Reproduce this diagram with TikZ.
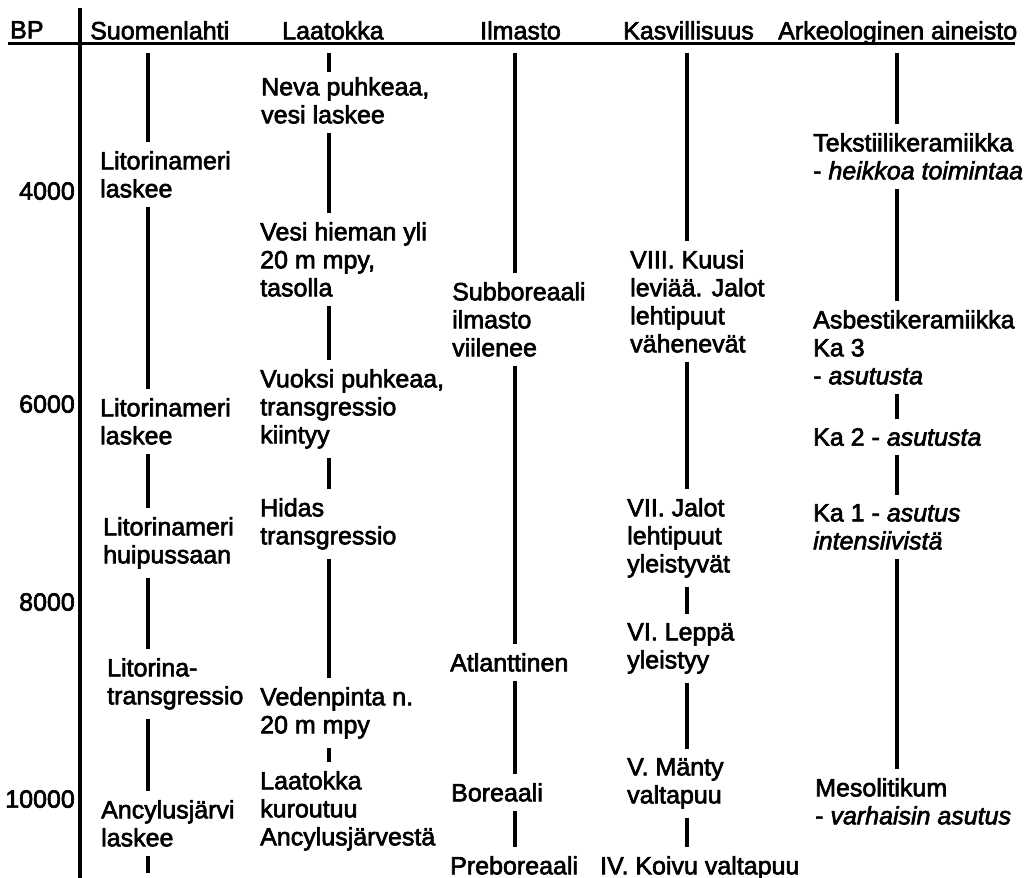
\documentclass[tikz,border=0pt]{standalone}
\usepackage{fontspec}
\setmainfont{Liberation Sans}[UprightFeatures={FakeBold=2.5}, ItalicFeatures={FakeBold=2.5}]
\tikzset{
    txt/.style={anchor=north west, inner sep=0pt, align=left, font=\fontsize{25}{28}\selectfont},
    year/.style={anchor=north east, inner sep=0pt, font=\fontsize{25}{28}\selectfont},
    bar/.style={line width=4pt, shorten <=9pt, shorten >=9pt},
}
\begin{document}
\begin{tikzpicture}[x=1pt, y=-1pt]
    \useasboundingbox[fill=white] (0,0) rectangle (1034,878);
    % header and time axis
    \foreach \name/\x/\head in {bp/10/BP, suo/90/Suomenlahti, laa/282/Laatokka, ilm/480/Ilmasto, kas/623/Kasvillisuus, ark/778/Arkeologinen aineisto}
        \node[txt] (h\name) at (\x, 21) {\head};
    \draw[line width=3pt] (8, 43) -- (1015, 43);
    \draw[line width=4.5pt] (80, 8) -- (80, 878);
    \foreach \yr/\y in {4000/182, 6000/395, 8000/593, 10000/790}
        \node[year] (y\yr) at (75, \y) {\yr};
    % Suomenlahti
    \coordinate (sx) at (148, 53);
    \coordinate (sz) at (148, 873);
    \node[txt] (s1) at (100, 151) {Litorinameri\\laskee};
    \node[txt] (s2) at (100, 398) {Litorinameri\\laskee};
    \node[txt] (s3) at (103, 517) {Litorinameri\\huipussaan};
    \node[txt] (s4) at (107, 658) {Litorina-\\transgressio};
    \node[txt] (s5) at (101, 800) {Ancylusjärvi\\laskee};
    \draw[bar, shorten <=0pt] (sx) -- (sx |- s1.north);
    \draw[bar] (sx |- s1.south) -- (sx |- s2.north);
    \draw[bar] (sx |- s2.south) -- (sx |- s3.north);
    \draw[bar] (sx |- s3.south) -- (sx |- s4.north);
    \draw[bar] (sx |- s4.south) -- (sx |- s5.north);
    \draw[bar, shorten >=0pt] (sx |- s5.south) -- (sz);
    % Laatokka
    \coordinate (lx) at (329, 53);
    \node[txt] (l1) at (261, 77) {Neva puhkeaa,\\vesi laskee};
    \node[txt] (l2) at (260, 222) {Vesi hieman yli\\20 m mpy,\\tasolla};
    \node[txt] (l3) at (260, 369) {Vuoksi puhkeaa,\\transgressio\\kiintyy};
    \node[txt] (l4) at (260, 498) {Hidas\\transgressio};
    \node[txt] (l5) at (260, 687) {Vedenpinta n.\\20 m mpy};
    \node[txt] (l6) at (260, 771) {Laatokka\\kuroutuu\\Ancylusjärvestä};
    \draw[bar, shorten <=0pt, shorten >=5pt] (lx) -- (lx |- l1.north);
    \draw[bar] (lx |- l1.south) -- (lx |- l2.north);
    \draw[bar] (lx |- l2.south) -- (lx |- l3.north);
    \draw[bar] (lx |- l3.south) -- (lx |- l4.north);
    \draw[bar] (lx |- l4.south) -- (lx |- l5.north);
    \draw[bar] (lx |- l5.south) -- (lx |- l6.north);
    % Ilmasto
    \coordinate (ix) at (515, 53);
    \node[txt] (i1) at (452, 282) {Subboreaali\\ilmasto\\viilenee};
    \node[txt] (i2) at (450, 653) {Atlanttinen};
    \node[txt] (i3) at (451, 783) {Boreaali};
    \node[txt] (i4) at (450, 856) {Preboreaali};
    \draw[bar, shorten <=0pt] (ix) -- (ix |- i1.north);
    \draw[bar] (ix |- i1.south) -- (ix |- i2.north);
    \draw[bar] (ix |- i2.south) -- (ix |- i3.north);
    \draw[bar] (ix |- i3.south) -- (ix |- i4.north);
    % Kasvillisuus
    \coordinate (kx) at (687, 53);
    \node[txt] (k1) at (630, 250) {VIII. Kuusi\\leviää. Jalot\\lehtipuut\\vähenevät};
    \node[txt] (k2) at (627, 498) {VII. Jalot\\lehtipuut\\yleistyvät};
    \node[txt] (k3) at (627, 623) {VI. Leppä\\yleistyy};
    \node[txt] (k4) at (627, 758) {V. Mänty\\valtapuu};
    \node[txt] (k5) at (600, 856) {IV. Koivu valtapuu};
    \draw[bar, shorten <=0pt] (kx) -- (kx |- k1.north);
    \draw[bar] (kx |- k1.south) -- (kx |- k2.north);
    \draw[bar] (kx |- k2.south) -- (kx |- k3.north);
    \draw[bar] (kx |- k3.south) -- (kx |- k4.north);
    \draw[bar] (kx |- k4.south) -- (kx |- k5.north);
    % Arkeologinen aineisto
    \coordinate (ax) at (897, 53);
    \node[txt] (a1) at (813, 133) {Tekstiilikeramiikka\\- \textit{heikkoa toimintaa}};
    \node[txt] (a2) at (813, 310) {Asbestikeramiikka\\Ka 3\\- \textit{asutusta}};
    \node[txt] (a3) at (813, 428) {Ka 2 - \textit{asutusta}};
    \node[txt] (a4) at (813, 504) {Ka 1 - \textit{asutus}\\\textit{intensiivistä}};
    \node[txt] (a5) at (815, 778) {Mesolitikum\\- \textit{varhaisin asutus}};
    \draw[bar, shorten <=0pt] (ax) -- (ax |- a1.north);
    \draw[bar] (ax |- a1.south) -- (ax |- a2.north);
    \draw[bar] (ax |- a2.south) -- (ax |- a3.north);
    \draw[bar] (ax |- a3.south) -- (ax |- a4.north);
    \draw[bar] (ax |- a4.south) -- (ax |- a5.north);
\end{tikzpicture}
\end{document}
